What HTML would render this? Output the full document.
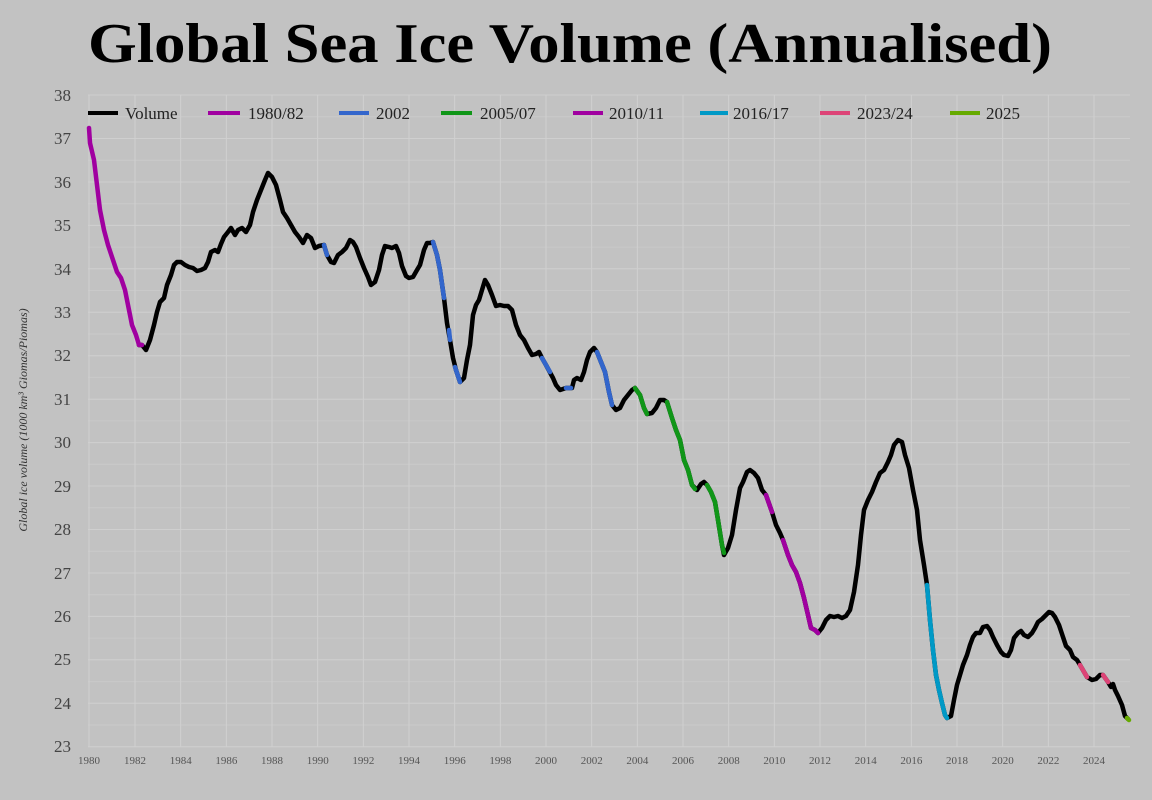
<!DOCTYPE html>
<html><head><meta charset="utf-8"><style>
body{margin:0;background:#c2c2c2;}
svg{display:block;}
text{font-family:"Liberation Serif",serif;}
</style></head><body>
<svg width="1152" height="800" viewBox="0 0 1152 800" xmlns="http://www.w3.org/2000/svg">
<rect width="1152" height="800" fill="#c2c2c2"/>
<text x="88" y="62" font-size="56" font-weight="bold" fill="#000" textLength="964" lengthAdjust="spacingAndGlyphs">Global Sea Ice Volume (Annualised)</text>
<g stroke="#cfcfcf" stroke-width="1">
<line x1="88" y1="95" x2="1130" y2="95"/><line x1="88" y1="138.5" x2="1130" y2="138.5"/><line x1="88" y1="182" x2="1130" y2="182"/><line x1="88" y1="225.4" x2="1130" y2="225.4"/><line x1="88" y1="268.8" x2="1130" y2="268.8"/><line x1="88" y1="312.3" x2="1130" y2="312.3"/><line x1="88" y1="355.7" x2="1130" y2="355.7"/><line x1="88" y1="399.2" x2="1130" y2="399.2"/><line x1="88" y1="442.6" x2="1130" y2="442.6"/><line x1="88" y1="486" x2="1130" y2="486"/><line x1="88" y1="529.5" x2="1130" y2="529.5"/><line x1="88" y1="573" x2="1130" y2="573"/><line x1="88" y1="616.4" x2="1130" y2="616.4"/><line x1="88" y1="659.8" x2="1130" y2="659.8"/><line x1="88" y1="703.3" x2="1130" y2="703.3"/><line x1="88" y1="746.7" x2="1130" y2="746.7"/>
</g>
<g stroke="#c9c9c9" stroke-width="1">
<line x1="88" y1="116.7" x2="1130" y2="116.7"/><line x1="88" y1="160.2" x2="1130" y2="160.2"/><line x1="88" y1="203.7" x2="1130" y2="203.7"/><line x1="88" y1="247.1" x2="1130" y2="247.1"/><line x1="88" y1="290.5" x2="1130" y2="290.5"/><line x1="88" y1="334" x2="1130" y2="334"/><line x1="88" y1="377.4" x2="1130" y2="377.4"/><line x1="88" y1="420.9" x2="1130" y2="420.9"/><line x1="88" y1="464.3" x2="1130" y2="464.3"/><line x1="88" y1="507.8" x2="1130" y2="507.8"/><line x1="88" y1="551.2" x2="1130" y2="551.2"/><line x1="88" y1="594.7" x2="1130" y2="594.7"/><line x1="88" y1="638.1" x2="1130" y2="638.1"/><line x1="88" y1="681.6" x2="1130" y2="681.6"/><line x1="88" y1="725" x2="1130" y2="725"/>
</g>
<g stroke="#d0d0d0" stroke-width="1">
<line x1="89" y1="95" x2="89" y2="747"/><line x1="135" y1="95" x2="135" y2="747"/><line x1="180.7" y1="95" x2="180.7" y2="747"/><line x1="226.4" y1="95" x2="226.4" y2="747"/><line x1="272" y1="95" x2="272" y2="747"/><line x1="317.7" y1="95" x2="317.7" y2="747"/><line x1="363.4" y1="95" x2="363.4" y2="747"/><line x1="409" y1="95" x2="409" y2="747"/><line x1="454.7" y1="95" x2="454.7" y2="747"/><line x1="500.4" y1="95" x2="500.4" y2="747"/><line x1="546" y1="95" x2="546" y2="747"/><line x1="591.7" y1="95" x2="591.7" y2="747"/><line x1="637.4" y1="95" x2="637.4" y2="747"/><line x1="683" y1="95" x2="683" y2="747"/><line x1="728.7" y1="95" x2="728.7" y2="747"/><line x1="774.4" y1="95" x2="774.4" y2="747"/><line x1="820" y1="95" x2="820" y2="747"/><line x1="865.7" y1="95" x2="865.7" y2="747"/><line x1="911.4" y1="95" x2="911.4" y2="747"/><line x1="957" y1="95" x2="957" y2="747"/><line x1="1002.7" y1="95" x2="1002.7" y2="747"/><line x1="1048.4" y1="95" x2="1048.4" y2="747"/><line x1="1094" y1="95" x2="1094" y2="747"/>
</g>
<g fill="#444" font-size="17" text-anchor="end">
<text x="71" y="101">38</text><text x="71" y="144">37</text><text x="71" y="188">36</text><text x="71" y="231">35</text><text x="71" y="275">34</text><text x="71" y="318">33</text><text x="71" y="361">32</text><text x="71" y="405">31</text><text x="71" y="448">30</text><text x="71" y="492">29</text><text x="71" y="535">28</text><text x="71" y="579">27</text><text x="71" y="622">26</text><text x="71" y="665">25</text><text x="71" y="709">24</text><text x="71" y="752">23</text>
</g>
<g fill="#555" font-size="11" text-anchor="middle">
<text x="89" y="764">1980</text><text x="135" y="764">1982</text><text x="180.7" y="764">1984</text><text x="226.4" y="764">1986</text><text x="272" y="764">1988</text><text x="317.7" y="764">1990</text><text x="363.4" y="764">1992</text><text x="409" y="764">1994</text><text x="454.7" y="764">1996</text><text x="500.4" y="764">1998</text><text x="546" y="764">2000</text><text x="591.7" y="764">2002</text><text x="637.4" y="764">2004</text><text x="683" y="764">2006</text><text x="728.7" y="764">2008</text><text x="774.4" y="764">2010</text><text x="820" y="764">2012</text><text x="865.7" y="764">2014</text><text x="911.4" y="764">2016</text><text x="957" y="764">2018</text><text x="1002.7" y="764">2020</text><text x="1048.4" y="764">2022</text><text x="1094" y="764">2024</text>
</g>
<text transform="translate(27,420) rotate(-90)" text-anchor="middle" font-size="12" font-style="italic" fill="#333">Global ice volume (1000 km³ Giomas/Piomas)</text>
<g stroke-width="4" stroke-linecap="butt">
<line x1="88" y1="113" x2="118" y2="113" stroke="#000"/>
<line x1="208" y1="113" x2="240" y2="113" stroke="#a000a0"/>
<line x1="339" y1="113" x2="369" y2="113" stroke="#3366cc"/>
<line x1="441" y1="113" x2="472" y2="113" stroke="#109618"/>
<line x1="573" y1="113" x2="603" y2="113" stroke="#a000a0"/>
<line x1="700" y1="113" x2="728" y2="113" stroke="#0099c6"/>
<line x1="820" y1="113" x2="850" y2="113" stroke="#dd4477"/>
<line x1="950" y1="113" x2="980" y2="113" stroke="#66aa00"/>
</g>
<g fill="#222" font-size="17">
<text x="125" y="119">Volume</text><text x="248" y="119">1980/82</text><text x="376" y="119">2002</text><text x="480" y="119">2005/07</text><text x="609" y="119">2010/11</text><text x="733" y="119">2016/17</text><text x="857" y="119">2023/24</text><text x="986" y="119">2025</text>
</g>
<g fill="none" stroke-width="4.5" stroke-linejoin="round" stroke-linecap="round">
<polyline stroke="#000" points="139,345 142,345 146,350 150,340 154,325 157,312 160,302 164,298 167,285 171,275 174,265 177,262 181,262 185,265 189,267 193,268 197,271 201,270 205,268 208,262 211,252 215,250 218,252 221,244 224,237 228,232 231,228 235,235 238,230 242,228 246,232 250,225 253,212 257,200 261,190 265,180 268,173 272,177 276,185 280,200 283,212 287,218 291,225 295,232 299,237 303,243 307,235 311,238 315,248 319,246 324,245 327,255 331,262 334,263 338,255 342,252 346,248 350,240 353,242 356,247 360,258 364,268 368,277 371,285 375,282 379,270 382,255 385,246 389,247 392,248 396,246 399,253 402,266 406,276 409,278 413,277 417,270 420,265 424,250 427,243 430,243 433,242 437,255 440,270 444,298 447,323 450,340 453,358 456,370 460,382 464,378 467,360 470,345 473,315 476,305 479,300 482,290 485,280 488,285 492,295 496,306 500,305 504,306 508,306 512,310 516,325 520,335 524,340 528,348 532,355 536,354 539,352 542,358 546,365 553,378 556,385 560,390 563,389 566,388 572,388 574,380 577,378 581,380 584,372 587,360 590,352 594,348 597,352 601,362 605,372 609,392 612,405 616,410 620,408 624,400 628,395 632,390 635,388 640,395 644,408 647,414 652,413 656,408 660,400 664,400 667,402 672,418 676,430 680,440 684,460 688,470 692,485 697,490 701,484 704,482 707,485 711,492 715,502 718,520 722,545 724,555 728,548 732,535 736,510 740,488 743,482 747,472 750,470 754,473 758,478 762,490 766,495 772,512 776,525 780,533 783,540 788,555 792,565 796,572 800,583 804,598 808,615 811,628 815,630 818,633 822,628 826,620 830,616 834,617 838,616 842,618 846,616 850,610 854,592 858,565 861,535 864,510 868,500 872,492 876,482 880,473 884,470 888,462 891,455 894,445 898,440 902,442 905,455 909,468 913,490 917,510 920,540 924,565 927,585 930,620 933,650 936,675 939,690 942,703 945,715 947,718 951,716 954,700 957,685 960,675 963,665 967,655 970,645 973,637 976,633 980,633 983,627 987,626 990,630 993,637 997,645 1001,652 1004,655 1008,656 1011,650 1014,638 1018,633 1021,631 1024,635 1028,637 1032,633 1035,628 1038,622 1042,619 1045,616 1049,612 1052,613 1055,617 1059,625 1063,637 1066,646 1070,650 1073,657 1077,660 1080,665 1087,677 1092,680 1096,679 1100,675 1103,675 1108,682 1111,687 1113,684 1115,690 1118,696 1122,705 1125,716 1128,719"/>
<polyline stroke="#a000a0" points="89,128 90,143 94,160 97,185 100,210 104,230 108,245 113,260 117,272 121,278 125,290 129,310 132,325 136,335 139,345 142,345"/>
<polyline stroke="#3366cc" points="324,245 327,255"/>
<polyline stroke="#3366cc" points="433,242 437,255 440,270 444,298"/>
<polyline stroke="#3366cc" points="449,330 450,340"/>
<polyline stroke="#3366cc" points="455,367 456,370 460,382"/>
<polyline stroke="#3366cc" points="542,358 546,365 550,372"/>
<polyline stroke="#3366cc" points="566,388 571,388"/>
<polyline stroke="#3366cc" points="597,352 601,362 605,372 609,392 612,405"/>
<polyline stroke="#109618" points="635,388 640,395 644,408 647,414"/>
<polyline stroke="#109618" points="667,402 672,418 676,430 680,440 684,460 688,470 692,485 695,489"/>
<polyline stroke="#109618" points="707,485 711,492 715,502 718,520 722,545 724,553"/>
<polyline stroke="#a000a0" points="766,495 772,512"/>
<polyline stroke="#a000a0" points="783,540 788,555 792,565 796,572 800,583 804,598 808,615 811,628 815,630 818,633"/>
<polyline stroke="#0099c6" points="927,585 930,620 933,650 936,675 939,690 942,703 945,715 947,718"/>
<polyline stroke="#dd4477" points="1080,665 1087,677"/>
<polyline stroke="#dd4477" points="1103,675 1108,682"/>
<polyline stroke="#66aa00" points="1127,718 1129,720"/>
</g>
</svg>
</body></html>
